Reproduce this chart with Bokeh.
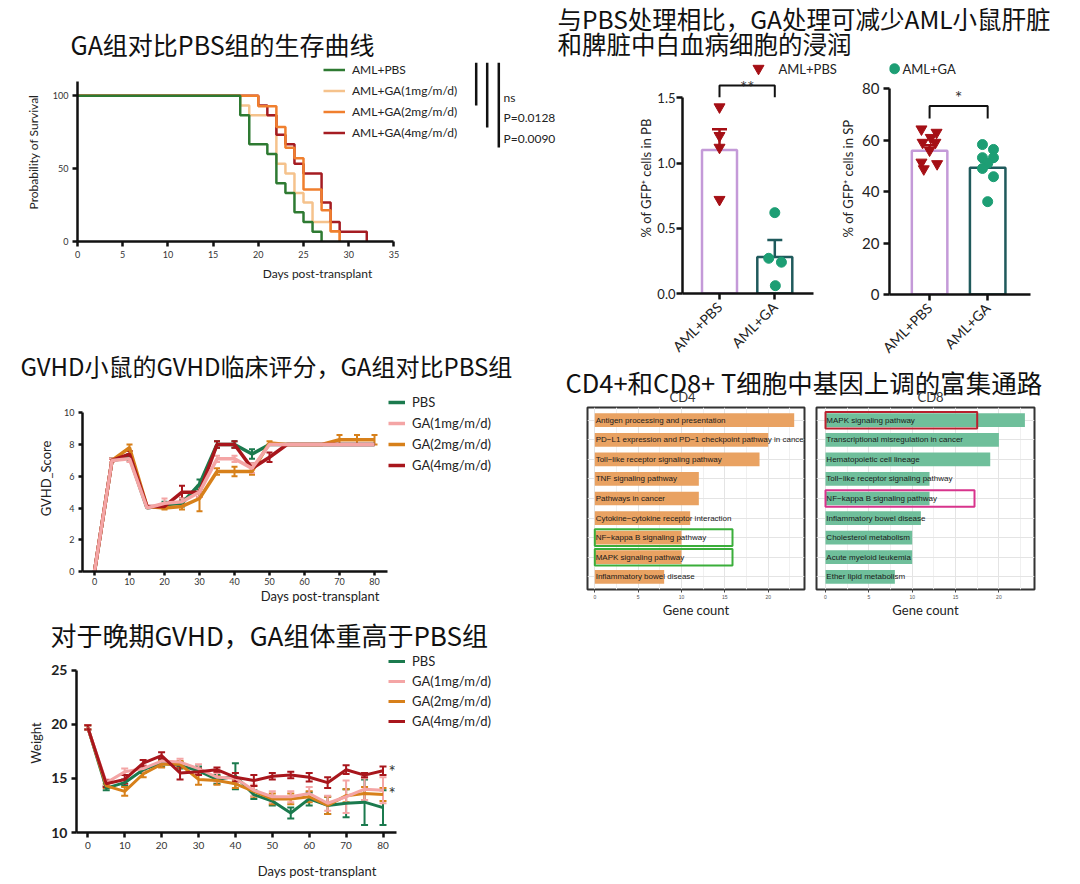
import math
from bokeh.plotting import figure
from bokeh.layouts import column, row
from bokeh.models import (Range1d, FactorRange, FixedTicker, Legend, LegendItem,
                          Whisker, TeeHead, ColumnDataSource, NumeralTickFormatter)
from bokeh.core.properties import value
from bokeh.embed import file_html
from bokeh.resources import INLINE

# ------------------------------------------------------------------ data
# Kaplan-Meier survival
surv_groups = ["AML+PBS", "AML+GA(1mg/m/d)", "AML+GA(2mg/m/d)", "AML+GA(4mg/m/d)"]
surv_days_pbs = [0, 18, 19, 21, 22, 23, 24, 25, 26, 27]
surv_pct_pbs = [100, 86.7, 66.7, 60, 40, 33.3, 20, 13.3, 6.7, 0]
surv_days_1mg = [0, 18, 19, 22, 23, 24, 25, 26, 28, 29]
surv_pct_1mg = [100, 93.3, 86.7, 53.3, 46.7, 33.3, 26.7, 13.3, 6.7, 0]
surv_days_2mg = [0, 20, 22, 23, 24, 25, 27, 28, 29]
surv_pct_2mg = [100, 92.9, 78.6, 64.3, 57.1, 35.7, 21.4, 7.1, 0]
surv_days_4mg = [0, 20, 21, 22, 23, 24, 25, 27, 28, 29, 32]
surv_pct_4mg = [100, 93.3, 86.7, 73.3, 66.7, 53.3, 46.7, 26.7, 13.3, 6.7, 0]
surv_compare = ["ns", "P=0.0128", "P=0.0090"]
surv_xticks = [0, 5, 10, 15, 20, 25, 30, 35]
surv_yticks = [0, 50, 100]

# GFP+ cells in PB / SP
cats = ["AML+PBS", "AML+GA"]
pb_pbs = [1.43, 1.21, 1.12, 0.72]
pb_pbs_jit = [0.0, 0.0, 0.0, 0.0]
pb_ga = [0.62, 0.27, 0.24, 0.06]
pb_ga_jit = [0.0, -0.11, 0.12, 0.01]
pb_mean = [1.10, 0.28]
pb_sem = [0.16, 0.13]
pb_sig = "**"
sp_pbs = [64.3, 63.0, 61.0, 59.1, 59.1, 56.1, 51.4, 50.8, 48.8]
sp_pbs_jit = [-0.14, 0.12, 0.02, -0.12, 0.10, 0.0, -0.14, 0.13, -0.10]
sp_ga = [58.3, 56.4, 53.2, 53.2, 51.0, 49.0, 45.8, 36.1]
sp_ga_jit = [-0.09, 0.10, -0.09, 0.10, 0.0, -0.09, 0.10, 0.0]
sp_mean = [55.9, 49.3]
sp_sem = [2.1, 2.3]
sp_sig = "*"

# GVHD score
gvhd_groups = ["PBS", "GA(1mg/m/d)", "GA(2mg/m/d)", "GA(4mg/m/d)"]
gv_days = [0, 5, 10, 15, 20, 25, 30, 35, 40, 45, 50, 55, 60, 65, 70, 75, 80]
gv_pbs = [0, 7.0, 7.2, 4.0, 4.2, 4.3, 5.5, 8.0, 8.0, 7.4, 8.0, 8.0, 8.0, 8.0, 8.0, 8.0, 8.0]
gv_1mg = [0, 7.0, 7.1, 4.0, 4.3, 4.4, 5.0, 7.1, 7.1, 6.5, 8.0, 8.0, 8.0, 8.0, 8.0, 8.0, 8.0]
gv_2mg = [0, 7.0, 7.8, 4.1, 4.0, 4.1, 4.6, 6.3, 6.3, 6.3, 8.1, 8.0, 8.0, 8.0, 8.3, 8.3, 8.3]
gv_4mg = [0, 7.0, 7.4, 4.1, 4.1, 5.0, 5.0, 8.0, 8.0, 6.5, 7.2, 8.0, 8.0, 8.0, 8.0, 8.0, 8.0]
gv_pbs_sem = [0, 0.1, 0.2, 0, 0.2, 0.2, 0.3, 0.2, 0.2, 0.3, 0, 0, 0, 0, 0, 0, 0]
gv_1mg_sem = [0, 0.1, 0.2, 0, 0.3, 0.2, 0.3, 0.2, 0.2, 0.3, 0, 0, 0, 0, 0, 0, 0]
gv_2mg_sem = [0, 0.1, 0.2, 0, 0.1, 0.2, 0.8, 0.2, 0.3, 0.2, 0.1, 0, 0, 0, 0.3, 0.3, 0.3]
gv_4mg_sem = [0, 0.1, 0.2, 0, 0.1, 0.4, 0.3, 0.2, 0.2, 0.3, 0.3, 0, 0, 0, 0, 0, 0]
gv_xticks = [0, 10, 20, 30, 40, 50, 60, 70, 80]
gv_yticks = [0, 2, 4, 6, 8, 10]

# body weight
w_days = [0, 5, 10, 15, 20, 25, 30, 35, 40, 45, 50, 55, 60, 65, 70, 75, 80]
w_pbs = [19.7, 14.1, 14.6, 15.8, 16.4, 16.2, 15.7, 14.9, 15.2, 13.5, 12.9, 11.8, 13.1, 12.5, 12.7, 12.8, 12.3]
w_1mg = [19.7, 14.6, 15.6, 15.9, 16.6, 16.5, 15.9, 15.1, 15.0, 13.9, 13.3, 13.3, 13.6, 12.7, 13.3, 14.0, 13.9]
w_2mg = [19.7, 14.3, 13.8, 15.4, 16.3, 16.3, 14.9, 14.8, 14.5, 13.8, 13.1, 13.1, 13.3, 12.5, 13.4, 13.6, 13.5]
w_4mg = [19.7, 14.5, 14.9, 16.4, 17.1, 15.5, 15.6, 15.8, 15.1, 14.8, 15.2, 15.3, 15.1, 14.6, 15.8, 15.3, 15.7]
w_pbs_sem = [0.2, 0.2, 0.3, 0.3, 0.3, 0.3, 0.4, 0.4, 1.2, 0.4, 0.4, 0.5, 0.6, 0.8, 1.3, 2.1, 1.6]
w_1mg_sem = [0.2, 0.3, 0.3, 0.3, 0.3, 0.3, 0.4, 0.4, 0.5, 0.5, 0.5, 0.5, 0.6, 0.7, 1.5, 1.0, 1.2]
w_2mg_sem = [0.2, 0.2, 0.4, 0.3, 0.3, 0.3, 0.5, 0.4, 0.4, 0.5, 0.5, 0.5, 0.5, 0.8, 0.6, 0.6, 0.6]
w_4mg_sem = [0.2, 0.3, 0.4, 0.3, 0.3, 0.6, 0.3, 0.2, 0.4, 0.5, 0.3, 0.3, 0.4, 0.5, 0.4, 0.2, 0.4]
w_sig = ["*", "*"]
w_sig_y = [15.6, 13.6]
w_xticks = [0, 10, 20, 30, 40, 50, 60, 70, 80]
w_yticks = [10, 15, 20, 25]

# KEGG enrichment
cd4_paths = ["Antigen processing and presentation",
             "PD\u2212L1 expression and PD\u22121 checkpoint pathway in cancer",
             "Toll\u2212like receptor signaling pathway",
             "TNF signaling pathway",
             "Pathways in cancer",
             "Cytokine\u2212cytokine receptor interaction",
             "NF\u2212kappa B signaling pathway",
             "MAPK signaling pathway",
             "Inflammatory bowel disease"]
cd4_counts = [23, 20, 19, 12, 12, 11, 10, 10, 8]
cd8_paths = ["MAPK signaling pathway",
             "Transcriptional misregulation in cancer",
             "Hematopoietic cell lineage",
             "Toll\u2212like receptor signaling pathway",
             "NF\u2212kappa B signaling pathway",
             "Inflammatory bowel disease",
             "Cholesterol metabolism",
             "Acute myeloid leukemia",
             "Ether lipid metabolism"]
cd8_counts = [23, 20, 19, 12, 12, 11, 10, 10, 8]
gene_ticks = [0, 5, 10, 15, 20]

titles = ["GA组对比PBS组的生存曲线",
          "与PBS处理相比，GA处理可减少AML小鼠肝脏",
          "和脾脏中白血病细胞的浸润",
          "GVHD小鼠的GVHD临床评分，GA组对比PBS组",
          "CD4+和CD8+ T细胞中基因上调的富集通路",
          "对于晚期GVHD，GA组体重高于PBS组"]

# ------------------------------------------------------------------ style
FONT = "Lato"
CJK = "Noto Sans CJK SC"
C_PBS_S, C_1_S, C_2_S, C_4_S = "#2e7a32", "#f5c28c", "#f07f2e", "#a51c22"
C_PBS, C_1, C_2, C_4 = "#1b7a4e", "#f4a5a5", "#d7801a", "#a8161c"
C_TRI, C_DOT = "#a50f15", "#1d9e74"
C_BAR = ["#c49ad8", "#1f5a5c"]
C_ERR = ["#a50f15", "#1f5a5c"]
INK = "#111111"


def no_align(p):
    try:
        p.frame_align = False
    except Exception:
        pass
    return p


def canvas(w, h):
    c = figure(width=w, height=h, x_range=Range1d(0, w), y_range=Range1d(0, h),
               output_backend="svg", toolbar_location=None,
               x_axis_location=None, y_axis_location=None, min_border=0,
               outline_line_color=None)
    c.grid.visible = False
    return no_align(c)


def title_text(c, x, y, txt, size="25px"):
    c.text(x=[x], y=[y], text=[txt], text_font=value(CJK), text_font_size=size,
           text_baseline="middle", text_align="left", text_color=INK)


def prism_fig(w, h, xr, yr, ml, mr, mt, mb):
    p = figure(width=w, height=h, x_range=Range1d(*xr), y_range=Range1d(*yr),
               output_backend="svg", toolbar_location=None,
               min_border_left=ml, min_border_right=mr, min_border_top=mt,
               min_border_bottom=mb, outline_line_color=None)
    no_align(p)
    p.grid.visible = False
    for ax in p.axis:
        ax.axis_line_width = 2.5
        ax.axis_line_color = INK
        ax.major_tick_line_width = 2.5
        ax.major_tick_line_color = INK
        ax.major_tick_out = 5
        ax.major_tick_in = 0
        ax.minor_tick_line_color = None
        ax.major_label_text_font = FONT
        ax.major_label_text_color = "#333333"
        ax.axis_label_text_font = FONT
        ax.axis_label_text_font_style = "normal"
        ax.axis_label_text_color = "#222222"
        ax.major_label_standoff = 4
    return p


def line_legend(items, loc, row_h, spacing, size):
    return Legend(items=items, location=loc, glyph_width=17, glyph_height=row_h,
                  label_height=row_h, spacing=spacing, label_standoff=7, padding=0, margin=0,
                  border_line_color=None, background_fill_alpha=0, label_text_font=FONT,
                  label_text_font_size=size, label_text_color="#222222")


def upper_errors(p, means, sems):
    # mean + SEM whiskers, one per group in the group's colour
    for i, (m, s) in enumerate(zip(means, sems)):
        src = ColumnDataSource(dict(x=[i + 1], lo=[m], up=[m + s]))
        p.add_layout(Whisker(base="x", upper="up", lower="lo", source=src,
                             line_color=C_ERR[i], line_width=2.5, lower_head=None,
                             upper_head=TeeHead(size=15, line_color=C_ERR[i], line_width=2.5)))


LW, RW = 557, 521   # left / right column widths (picture x 0..557, 557..1078)

# ------------------------------------------------------------------ title canvases
surv_title = canvas(LW, 62)          # picture y 0..62
title_text(surv_title, 70, 19, titles[0], "25px")
top_title = canvas(RW, 62)           # picture y 0..62
title_text(top_title, 0, 44, titles[1], "24.5px")
title_text(top_title, 0, 19, titles[2], "24.5px")

# ------------------------------------------------------------------ survival
# frame: x 77..557, y 62..241 ; 9.04 px/day, 1.457 px/%
sv = prism_fig(LW, 238, (0, (LW - 77) / 9.04), (0, (241 - 62) / 1.457), 77, 0, 0, 59)
sx = lambda px: (px - 77) / 9.04
sy = lambda py: (241 - py) / 1.457
r1 = sv.step(surv_days_1mg, surv_pct_1mg, mode="after", line_color=C_1_S, line_width=2.5)
r4 = sv.step(surv_days_4mg, surv_pct_4mg, mode="after", line_color=C_4_S, line_width=2.5)
r2 = sv.step(surv_days_2mg, surv_pct_2mg, mode="after", line_color=C_2_S, line_width=2.5)
r0 = sv.step(surv_days_pbs, surv_pct_pbs, mode="after", line_color=C_PBS_S, line_width=2.5)
sv.xaxis.ticker = FixedTicker(ticks=surv_xticks)
sv.yaxis.ticker = FixedTicker(ticks=surv_yticks)
sv.xaxis.bounds = (0, 35)
sv.yaxis.bounds = (0, 110)
sv.xaxis.axis_label = "Days post-transplant"
sv.yaxis.axis_label = "Probability of Survival"
for ax in sv.axis:
    ax.major_label_text_font_size = "9px"
    ax.axis_label_text_font_size = "12px"
sv.xaxis.axis_label_standoff = 5
sv.yaxis.axis_label_standoff = 9
leg = line_legend([LegendItem(label=surv_groups[i], renderers=[r]) for i, r in enumerate([r0, r1, r2, r4])],
                  (246, 241 - 62 - (4 * 15 + 3 * 6)), 15, 6, "12px")
leg.glyph_width = 22
sv.add_layout(leg)
br_x = [sx(475.7), sx(486.7), sx(498.3)]
br_bottom = [sy(105), sy(127), sy(147)]
sv.segment(x0=br_x, y0=[sy(62)] * 3, x1=br_x, y1=br_bottom, line_color=INK, line_width=2.5)
sv.text(x=[sx(503)] * 3, y=[sy(97), sy(117), sy(138)], text=surv_compare,
        text_font=value(FONT), text_font_size="12px", text_baseline="middle",
        text_color="#222222")

# ------------------------------------------------------------------ GVHD score
gv_title = canvas(LW, 85)            # picture y 300..385
title_text(gv_title, 20, 20, titles[3], "24px")
# frame: x 82..557, y 385..571 ; day 0 at 94 px, 3.5 px/day ; 15.87 px/unit
gx0 = -12 / 3.5
gp = prism_fig(LW, 225, (gx0, gx0 + (LW - 82) / 3.5), (0, 186 / 15.87), 82, 0, 0, 39)
gv_series = [(gv_pbs, gv_pbs_sem, C_PBS), (gv_2mg, gv_2mg_sem, C_2),
             (gv_4mg, gv_4mg_sem, C_4), (gv_1mg, gv_1mg_sem, C_1)]
gv_r = {}
for vals, sem, col in gv_series:
    xs = [d for d, s in zip(gv_days, sem) if s > 0]
    src = ColumnDataSource(dict(x=xs,
                                up=[v + s for v, s in zip(vals, sem) if s > 0],
                                lo=[v - s for v, s in zip(vals, sem) if s > 0]))
    gp.add_layout(Whisker(base="x", upper="up", lower="lo", source=src, line_color=col, line_width=2,
                          upper_head=TeeHead(size=6, line_color=col, line_width=2),
                          lower_head=TeeHead(size=6, line_color=col, line_width=2)))
    gv_r[col] = gp.line(gv_days, vals, line_color=col, line_width=3.5)
gp.xaxis.ticker = FixedTicker(ticks=gv_xticks)
gp.yaxis.ticker = FixedTicker(ticks=gv_yticks)
gp.xaxis.bounds = (gx0, 80 + 12.7 / 3.5)
gp.yaxis.bounds = (0, 10)
gp.xaxis.axis_label = "Days post-transplant"
gp.yaxis.axis_label = "GVHD_Score"
for ax in gp.axis:
    ax.major_label_text_font_size = "9px"
    ax.axis_label_text_font_size = "13px"
    ax.major_tick_out = 4
gp.xaxis.major_label_standoff = 2
gp.xaxis.axis_label_standoff = 0
gp.yaxis.axis_label_standoff = 7
gp.add_layout(line_legend([LegendItem(label=gvhd_groups[i], renderers=[gv_r[c]])
                           for i, c in enumerate([C_PBS, C_1, C_2, C_4])],
                          (306, 571 - 394 - (4 * 16 + 3 * 5)), 16, 5, "13px"))

# ------------------------------------------------------------------ body weight
w_title = canvas(LW, 43)             # picture y 610..653
title_text(w_title, 50, 19, titles[5], "26px")
# frame: x 76..557, y 653..832 ; day 0 at 87.3, 3.69 px/day ; 10.83 px/g
wx0 = -(87.3 - 76) / 3.69
wp = prism_fig(LW, 229, (wx0, wx0 + (LW - 76) / 3.69), (10, 10 + (832 - 653) / 10.83), 76, 0, 0, 50)
w_series = [(w_pbs, w_pbs_sem, C_PBS), (w_2mg, w_2mg_sem, C_2),
            (w_1mg, w_1mg_sem, C_1), (w_4mg, w_4mg_sem, C_4)]
w_r = {}
for vals, sem, col in w_series:
    src = ColumnDataSource(dict(x=w_days, up=[v + s for v, s in zip(vals, sem)],
                                lo=[v - s for v, s in zip(vals, sem)]))
    wp.add_layout(Whisker(base="x", upper="up", lower="lo", source=src, line_color=col, line_width=2,
                          upper_head=TeeHead(size=7, line_color=col, line_width=2),
                          lower_head=TeeHead(size=7, line_color=col, line_width=2)))
    w_r[col] = wp.line(w_days, vals, line_color=col, line_width=3)
wp.text(x=[wx0 + (391.7 - 76) / 3.69] * 2, y=w_sig_y, text=w_sig, text_font=value(FONT),
        text_font_size="17px", text_baseline="middle", text_align="center", text_color="#333333")
wp.xaxis.ticker = FixedTicker(ticks=w_xticks)
wp.yaxis.ticker = FixedTicker(ticks=w_yticks)
wp.xaxis.bounds = (wx0, 80 + 13.3 / 3.69)
wp.yaxis.bounds = (10, 25)
wp.xaxis.axis_label = "Days post-transplant"
wp.yaxis.axis_label = "Weight"
wp.xaxis.major_label_text_font_size = "10px"
wp.yaxis.major_label_text_font_size = "14px"
wp.yaxis.major_label_text_font_style = "bold"
wp.yaxis.major_label_text_color = "#222222"
for ax in wp.axis:
    ax.axis_label_text_font_size = "13px"
wp.xaxis.axis_label_standoff = 11
wp.yaxis.axis_label_standoff = 4
wp.add_layout(line_legend([LegendItem(label=gvhd_groups[i], renderers=[w_r[c]])
                           for i, c in enumerate([C_PBS, C_1, C_2, C_4])],
                          (312, 832 - 653 - (4 * 16 + 3 * 4)), 16, 4, "13px"))

# ------------------------------------------------------------------ PB bars
# frame: x 682..837, y 62..293 ; cat1 at 719, 55.3 px/cat ; 130.4 px/unit
pbx0 = 1 - (719 - 682) / 55.3
pb = prism_fig(280, 302, (pbx0, pbx0 + 155 / 55.3), (0, (293 - 62) / 130.4), 125, 0, 0, 71)
pyy = lambda py: (293 - py) / 130.4
pb.vbar(x=[1, 2], top=pb_mean, width=35 / 55.3, fill_alpha=0, line_color=C_BAR, line_width=2.5)
upper_errors(pb, pb_mean, pb_sem)
pb.scatter(x=[1 + j for j in pb_pbs_jit], y=pb_pbs, marker="inverted_triangle", size=11,
           color=C_TRI)
pb.scatter(x=[2 + j for j in pb_ga_jit], y=pb_ga, marker="circle", size=10, color=C_DOT)
pb.line(x=[1, 1, 2, 2], y=[pyy(96.7), pyy(85), pyy(85), pyy(96.7)], line_color=INK, line_width=2)
pb.text(x=[1.5], y=[pyy(87)], text=[pb_sig], text_font=value(FONT),
        text_font_size="17px", text_align="center", text_baseline="middle", text_color="#333333")
pb.scatter(x=[1 + (758 - 719) / 55.3], y=[pyy(68)], marker="inverted_triangle",
           size=11, color=C_TRI)
pb.text(x=[1 + (778 - 719) / 55.3], y=[pyy(68)], text=[cats[0]],
        text_font=value(FONT), text_font_size="13px", text_baseline="middle", text_color="#222222")
pb.xaxis.ticker = FixedTicker(ticks=[1, 2])
pb.xaxis.major_label_overrides = {1: cats[0], 2: cats[1]}
pb.xaxis.major_label_orientation = math.pi / 4
pb.xaxis.bounds = (pbx0, 1 + (813.3 - 719) / 55.3)
pb.yaxis.ticker = FixedTicker(ticks=[0, 0.5, 1.0, 1.5])
pb.yaxis.formatter = NumeralTickFormatter(format="0.0")
pb.yaxis.bounds = (0, 1.5)
pb.yaxis.axis_label = "% of GFP\u207a cells in PB"
pb.xaxis.major_label_text_font_size = "14px"
pb.yaxis.major_label_text_font_size = "13px"
pb.yaxis.axis_label_text_font_size = "13px"
pb.yaxis.major_label_standoff = 1
pb.yaxis.axis_label_standoff = 0
for ax in pb.axis:
    ax.major_tick_out = 6
    ax.major_label_text_color = "#222222"
pb.xaxis.major_label_standoff = 5

# ------------------------------------------------------------------ SP bars
# frame: x 888..1078, y 62..295 ; cat1 at 928.3, 58.4 px/cat ; 2.583 px/unit
spx0 = 1 - (928.3 - 888) / 58.4
spf = prism_fig(241, 302, (spx0, spx0 + 190 / 58.4), (0, (295 - 62) / 2.583), 51, 0, 0, 69)
syy = lambda py: (295 - py) / 2.583
spf.vbar(x=[1, 2], top=sp_mean, width=35.7 / 58.4, fill_alpha=0, line_color=C_BAR, line_width=2.5)
upper_errors(spf, sp_mean, sp_sem)
spf.scatter(x=[1 + j for j in sp_pbs_jit], y=sp_pbs, marker="inverted_triangle", size=11,
            color=C_TRI)
spf.scatter(x=[2 + j for j in sp_ga_jit], y=sp_ga, marker="circle", size=10, color=C_DOT)
spf.line(x=[1, 1, 2, 2], y=[syy(118.3), syy(105.7), syy(105.7), syy(118.3)],
         line_color=INK, line_width=2)
spf.text(x=[1.5], y=[syy(97)], text=[sp_sig], text_font=value(FONT),
         text_font_size="18px", text_align="center", text_baseline="middle", text_color="#333333")
spf.scatter(x=[1 + (893 - 928.3) / 58.4], y=[syy(68.3)], marker="circle", size=10,
            color=C_DOT)
spf.text(x=[1 + (901 - 928.3) / 58.4], y=[syy(68.3)], text=[cats[1]],
         text_font=value(FONT), text_font_size="13px", text_baseline="middle", text_color="#222222")
spf.xaxis.ticker = FixedTicker(ticks=[1, 2])
spf.xaxis.major_label_overrides = {1: cats[0], 2: cats[1]}
spf.xaxis.major_label_orientation = math.pi / 4
spf.xaxis.bounds = (spx0, 1 + (1029.3 - 928.3) / 58.4)
spf.yaxis.ticker = FixedTicker(ticks=[0, 20, 40, 60, 80])
spf.yaxis.bounds = (0, 80)
spf.yaxis.axis_label = "% of GFP\u207a cells in SP"
spf.xaxis.major_label_text_font_size = "14px"
spf.yaxis.major_label_text_font_size = "15px"
spf.yaxis.axis_label_text_font_size = "13px"
spf.yaxis.axis_label_standoff = 3
for ax in spf.axis:
    ax.major_tick_out = 6
    ax.major_label_text_color = "#222222"
spf.xaxis.major_label_standoff = 5

# ------------------------------------------------------------------ enrichment bars
cd_title = canvas(RW, 39)            # picture y 364..403
title_text(cd_title, 8, 22, titles[4], "25.5px")
cd_title.text(x=[125, 373], y=[7, 7], text=["CD4", "CD8"], text_font=value(FONT),
              text_font_size="13px", text_align="center", text_baseline="middle",
              text_color="#333333")


def enrich_fig(w, paths, counts, color, ml, mr, zero_px, frame_left, frame_w, boxes):
    x0 = -(zero_px - frame_left) / 8.67
    p = figure(width=w, height=217, x_range=Range1d(x0, x0 + frame_w / 8.67),
               y_range=FactorRange(factors=list(reversed(paths)), range_padding=0.3 / 9),
               output_backend="svg", toolbar_location=None, y_axis_location=None,
               min_border_left=ml, min_border_right=mr, min_border_top=4, min_border_bottom=27,
               outline_line_color="#333333", outline_line_width=2)
    no_align(p)
    p.hbar(y=paths, left=0, right=counts, height=0.7, fill_color=color, line_color=None)
    p.text(x=[0.1] * len(paths), y=paths, text=paths, text_font=value("Liberation Sans"),
           text_font_size="8px", text_baseline="middle", text_color="#1a1a1a")
    for name, right, col in boxes:
        p.rect(x=[right / 2], y=[name], width=right, height=0.85, fill_alpha=0,
               line_color=col, line_width=2)
    p.xaxis.ticker = FixedTicker(ticks=gene_ticks, minor_ticks=[2.5, 7.5, 12.5, 17.5, 22.5])
    p.xaxis.axis_line_color = None
    p.xaxis.major_tick_out = 3
    p.xaxis.major_tick_in = 0
    p.xaxis.major_tick_line_color = "#444444"
    p.xaxis.minor_tick_line_color = None
    p.xaxis.major_label_text_font_size = "5px"
    p.xaxis.major_label_text_color = "#555555"
    p.xaxis.major_label_standoff = 1
    p.xaxis.axis_label = "Gene count"
    p.xaxis.axis_label_text_font = FONT
    p.xaxis.axis_label_text_font_style = "normal"
    p.xaxis.axis_label_text_font_size = "13px"
    p.xaxis.axis_label_text_color = "#222222"
    p.xaxis.axis_label_standoff = 0
    p.xgrid.grid_line_color = "#e4e4e4"
    p.xgrid.minor_grid_line_color = "#f0f0f0"
    p.ygrid.grid_line_color = "#e4e4e4"
    return p


# CD4 frame x 587..804 ; CD8 frame x 816..1034 ; y 407..593
cd4 = enrich_fig(253, cd4_paths, cd4_counts, "#e9a262", 30, 6, 594.3, 587, 217,
                 [(cd4_paths[6], (732 - 594.3) / 8.67, "#3aae3a"),
                  (cd4_paths[7], (732 - 594.3) / 8.67, "#3aae3a")])
cd8 = enrich_fig(268, cd8_paths, cd8_counts, "#6fbf9b", 6, 44, 825, 816, 218,
                 [(cd8_paths[0], (976.7 - 825) / 8.67, "#b8202e"),
                  (cd8_paths[4], (974 - 825) / 8.67, "#d8338c")])

left_col = column(surv_title, sv, gv_title, gp, w_title, wp)
right_col = column(top_title, row(pb, spf), cd_title, row(cd4, cd8))
layout = row(left_col, right_col)

open("out.html", "w").write(file_html(layout, INLINE))
